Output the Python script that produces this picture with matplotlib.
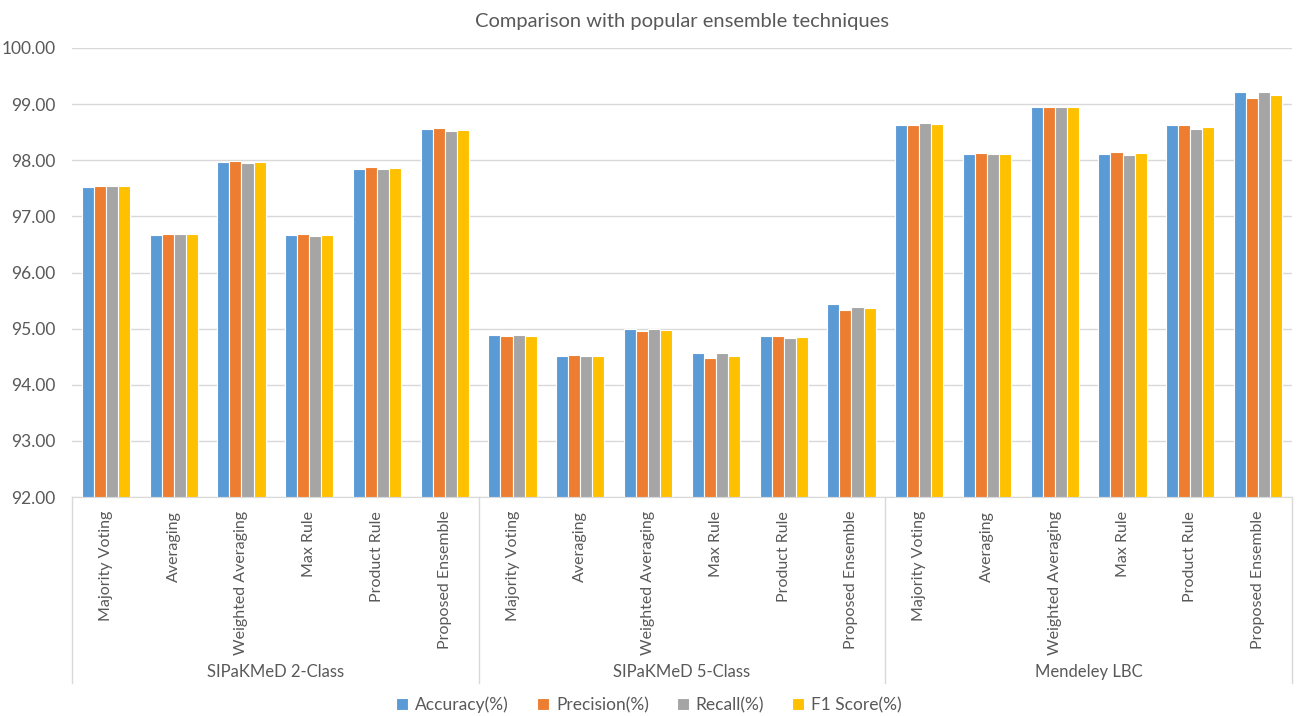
import numpy as np
import matplotlib.pyplot as plt
from matplotlib import transforms

plt.rcParams['font.family'] = ['Lato', 'DejaVu Sans']

datasets = ['SIPaKMeD 2-Class', 'SIPaKMeD 5-Class', 'Mendeley LBC']
methods = ['Majority Voting', 'Averaging', 'Weighted Averaging',
           'Max Rule', 'Product Rule', 'Proposed Ensemble']
metrics = ['Accuracy(%)', 'Precision(%)', 'Recall(%)', 'F1 Score(%)']
colors = ['#5B9BD5', '#ED7D31', '#A5A5A5', '#FFC000']

# one list per metric, 6 methods x 3 datasets
accuracy = [97.53, 96.67, 97.96, 96.67, 97.85, 98.55,
            94.89, 94.51, 95.00, 94.56, 94.86, 95.43,
            98.63, 98.12, 98.95, 98.12, 98.63, 99.22]
precision = [97.54, 96.69, 97.98, 96.69, 97.88, 98.57,
             94.87, 94.53, 94.95, 94.48, 94.86, 95.34,
             98.63, 98.13, 98.95, 98.15, 98.63, 99.11]
recall = [97.54, 96.68, 97.95, 96.65, 97.85, 98.52,
          94.88, 94.52, 95.00, 94.56, 94.84, 95.38,
          98.67, 98.12, 98.95, 98.10, 98.56, 99.22]
f1 = [97.54, 96.69, 97.97, 96.67, 97.86, 98.54,
      94.87, 94.52, 94.98, 94.52, 94.85, 95.36,
      98.65, 98.12, 98.95, 98.13, 98.60, 99.17]
series = [accuracy, precision, recall, f1]

fig = plt.figure(figsize=(12.98, 7.16), dpi=100)
ax = fig.add_axes([72 / 1298, 1 - 497 / 716, 1220 / 1298, 449 / 716])

x = np.arange(len(methods) * len(datasets))
w = 0.178
for i, (vals, name, c) in enumerate(zip(series, metrics, colors)):
    ax.bar(x + (i - 1.5) * w, np.array(vals) - 92, bottom=92, width=w,
           color=c, edgecolor='white', linewidth=0.8, label=name, zorder=3)

ax.set_ylim(92, 100)
ax.set_xlim(-0.5, len(x) - 0.5)
ax.set_yticks(np.arange(92, 100.5, 1))
ax.set_yticklabels([f'{v:.2f}' for v in np.arange(92, 100.5, 1)])
ax.grid(axis='y', color='#d9d9d9', linewidth=1, zorder=0)
for s in ['top', 'right', 'left']:
    ax.spines[s].set_visible(False)
ax.spines['bottom'].set_color('#d9d9d9')
ax.tick_params(axis='y', length=0, labelsize=12.5, labelcolor='#595959', pad=12)

ax.set_xticks(x)
ax.set_xticklabels(methods * len(datasets), rotation=90, va='top', ha='center')
ax.tick_params(axis='x', length=0, labelsize=11.5, labelcolor='#595959', pad=10)

# group labels and separators under the category axis
trans = transforms.blended_transform_factory(ax.transData, ax.transAxes)
n = len(methods)
for k in range(len(datasets) + 1):
    xs = k * n - 0.5
    ax.plot([xs, xs], [0, -0.414], color='#d9d9d9', linewidth=1,
            transform=trans, clip_on=False)
for k, d in enumerate(datasets):
    ax.text(k * n + (n - 1) / 2, -0.39, d, transform=trans, ha='center',
            va='center', fontsize=12, color='#595959')

ax.set_title('Comparison with popular ensemble techniques', fontsize=14.5,
             color='#595959', pad=15)

fig.legend(loc='center', bbox_to_anchor=(0.5, 1 - 705 / 716), ncol=4,
           frameon=False, fontsize=12.5, handlelength=0.7, handleheight=0.7,
           handletextpad=0.4, columnspacing=1.6, labelcolor='#595959')

fig.savefig('out.png', dpi=100)
